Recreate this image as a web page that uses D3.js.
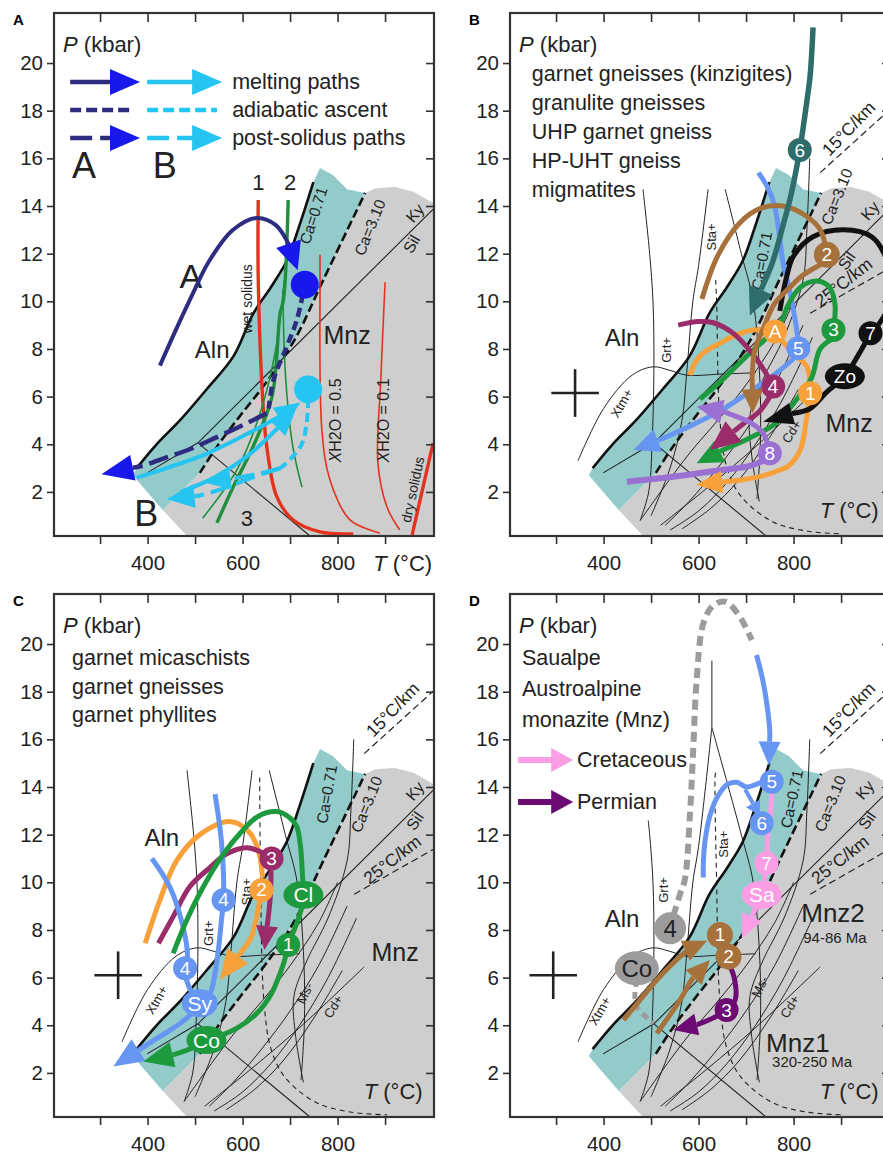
<!DOCTYPE html>
<html>
<head>
<meta charset="utf-8">
<script src="https://cdn.jsdelivr.net/npm/d3@7"></script>
<style>
body { margin: 0; background: #fff; }
svg { display: block; font-family: "Liberation Sans", Arial, sans-serif; }
</style>
</head>
<body>
<svg id="chart" width="883" height="1155"></svg>
<script>
// axes
var tDomain = [203, 1003];
var pDomain = [0.15, 22.1];
var tTicks = [300, 400, 500, 600, 700, 800, 900];
var tLabels = [400, 600, 800];
var pTicks = [2, 4, 6, 8, 10, 12, 14, 16, 18, 20];

// stability fields, T (°C), P (kbar)
var ca071 = [[377,3.0],[419,4.0],[468,5.0],[524,6.3],[581,7.7],[623,9.5],[660,10.6],[693,11.7],[720,13.2],[749,15.0]];
var ca310 = [[510,2.8],[546,3.9],[595,5.2],[650,6.6],[710,8.4],[770,10.9],[858,14.55]];
var tealTop = [[749,15.0],[763,15.6],[790,15.3],[820,14.7],[858,14.55]];
var greyTop = [[858,14.55],[880,14.75],[920,14.8],[960,14.6],[1003,14.1]];
var cutLine = [[369,2.7],[432,1.24],[483,0.15]];
var kySil = [[506,4.06],[1003,13.9]];
var kyAnd = [[399,2.8],[506,4.06]];
var andSil = [[506,4.06],[742,0.15]];
var geo15 = [[856,15.4],[1003,18.05]];
var geo25 = [[835,9.5],[1003,11.4]];

// panel A: solidi and curves
var wetSolidus = [[633,14.25],[633,10.9],[643,5.7],[651,3.9],[672,1.8],[706,0.83],[763,0.32],[833,0.24]];
var xh05 = [[763,11.95],[763,10.9],[767,4.6],[784,2.5],[826,0.83],[889,0.28]];
var xh01 = [[900,10.8],[891,6.7],[885,3.2],[904,1.37],[931,0.4]];
var drySolidus = [[1001,4.05],[957,0.2]];
var green2 = [[696,14.25],[686,10.05],[679,9.5],[662,6.0],[622,3.9],[580,2.2],[546,0.7]];
var green3a = [[688,10.9],[670,8.0],[640,5.5],[590,3.0],[516,0.9]];
var green3b = [[685,10.5],[690,7.0],[705,4.0],[725,2.2]];
var meltA = [[426,7.3],[455,8.6],[490,10.1],[530,11.7],[580,13.0],[630,13.5],[670,13.2],[697,12.4]];
var meltATip = [716, 11.3];
var dotA = [731, 10.7];
var ascentA = [[727,10.3],[714,9.2],[693,8.1],[665,6.7],[655,5.5]];
var postA = [[651,5.3],[600,4.8],[546,4.3],[490,3.8],[440,3.45],[390,3.1]];
var postATip = [303, 2.74];
var dotB = [738, 6.3];
var meltB1 = [[377,2.6],[440,3.0],[524,3.6],[616,4.5],[680,5.2]];
var meltB1Tip = [722, 5.75];
var meltB2 = [[470,2.0],[540,2.6],[610,3.5],[670,4.6]];
var meltB2Tip = [712, 5.45];
var ascentB = [[738,5.9],[735,4.9],[722,3.9],[680,3.0]];
var postB1 = [[680,3.0],[620,2.6],[560,2.15],[510,1.85]];
var postB1Tip = [440, 1.7];
var postB2 = [[680,3.0],[630,2.75],[590,2.6]];
var postB2Tip = [520, 2.4];

// petrogenetic grid of panels B-D
var gridGrt = [[483,14.7],[497,12],[504,10],[506,7.3],[502,4],[495,2],[477,0.8]];
var gridL2 = [[620,14.7],[600,11.5],[588,10],[575,7],[565,5],[540,3],[500,1]];
var gridL3 = [[656,14.7],[690,12],[715,10],[729,6.7],[730,4],[723,1.7]];
var gridMs = [[834,16],[828,13],[820,10.9],[780,8.5],[735,6.7],[708,5.2],[712,3.5],[728,1.6]];
var gridXtm = [[346,3.3],[400,5.5],[460,6.9],[504,7.25],[540,7.1],[575,6.9],[650,6.95],[720,7.0]];
var gridSta = [[635,14.5],[638,10],[645,5],[660,3],[690,1.8],[757,0.74],[830,0.35],[904,0.24]];
var gridCd = [[520,0.6],[620,2.2],[720,3.9],[856,6.45]];
var fan1 = [[477,0.8],[520,2],[580,3.6],[640,5],[700,6.5],[760,8.3],[800,10]];
var fan2 = [[530,0.6],[580,1.6],[640,3],[700,4.6],[760,6.5],[820,9]];
var fan3 = [[540,0.4],[600,1.2],[660,2.4],[720,4],[780,6],[840,8.5]];
var fan4 = [[565,0.45],[625,1.3],[685,2.5],[750,4.3],[810,6.3]];
var apexD = [[628,19.3],[628,16.5]];

// panel B paths
var b6 = [[841,21.5],[835,19.5],[828,18.4],[813,16.35],[795,14.5],[778,13.2],[755,11.6]];
var b6Tip = [708, 9.4];
var b2a = [[607,10.1],[640,11.9],[687,13.3],[730,13.9],[778,14.0],[825,13.6],[856,13.0],[870,12.0]];
var b2b = [[862,11.6],[820,11.1],[793,10.6],[760,9.9],[735,8.8],[719,8.0],[713,7.0]];
var b2bTip = [714, 5.3];
var b7loop = [[771,9.6],[785,11.0],[800,11.9],[840,12.7],[905,13.0],[965,12.7],[995,11.8],[1010,10.3],[985,9.2],[965,8.7]];
var b7zo = [[962,8.66],[935,7.7],[908,6.85],[870,6.2],[835,5.5]];
var b7Tip = [736, 4.95];
var b3loop = [[884,8.8],[887,9.9],[875,10.6],[850,10.85],[815,10.6],[790,9.9],[770,9.0],[740,8.4],[701,7.7],[650,6.7],[603,5.9]];
var b3down = [[880,8.4],[856,8.0],[838,6.8],[807,5.9],[764,4.9],[701,4.2],[650,3.75]];
var b3Tip = [596, 3.2];
var b5top = [[726,15.4],[745,14.8],[760,14.0],[770,12.8],[778,11.6],[790,10.6],[800,9.6],[808,8.6],[810,8.0]];
var b5down = [[800,7.6],[771,7.1],[715,6.3],[645,5.4],[575,4.7],[520,4.2]];
var b5Tip = [463, 3.76];
var b4 = [[557,9.0],[600,9.15],[631,9.1],[670,8.7],[701,8.1],[735,7.2],[757,6.45]];
var b4down = [[750,6.0],[729,5.4],[700,4.95]];
var b4Tip = [624, 3.76];
var bAleft = [[750,8.78],[715,8.8],[680,8.6],[645,8.24],[615,7.9],[596,7.54],[585,7.1],[582,6.9]];
var bA1 = [[770,8.5],[800,7.8],[828,7.26],[835,6.2]];
var b1down = [[833,5.8],[828,5.16],[814,3.76],[790,3.1],[771,2.92],[740,2.7],[690,2.5]];
var b1Tip = [595, 2.3];
var b8arc = [[745,4.0],[736,4.46],[710,4.9],[680,5.16],[655,5.35]];
var b8Tip = [596, 5.58];
var b8left = [[735,3.3],[701,3.06],[640,2.9],[575,2.71],[510,2.55],[449,2.43]];

// panel C paths
var cBlue1 = [[409,11.0],[447,9.8],[475,8.1],[484,6.9],[479,6.39],[482,5.9],[495,5.3],[510,4.9]];
var cBlue2 = [[542,13.7],[556,11.6],[560,9.26],[556,8.5],[546,6.7],[531,5.3],[512,4.9]];
var cSyDown = [[505,4.7],[470,4.1],[440,3.7],[400,3.2]];
var cSyTip = [328, 2.27];
var cOrange = [[395,7.44],[425,9.2],[461,10.9],[510,12.0],[574,12.55],[616,12.06],[635,11.2],[642,10.2]];
var cOrangeDown = [[636,9.2],[628,8.4],[616,7.6]];
var cOrangeTip = [552, 5.9];
var cMaroon = [[423,7.44],[455,8.6],[489,9.82],[530,10.6],[567,11.2],[610,11.45],[645,11.2]];
var cMaroonDown = [[660,10.5],[658,9.3]];
var cMaroonTip = [646, 7.16];
var cGreen = [[454,7.02],[480,8.3],[510,9.54],[550,10.9],[595,12.06],[635,12.8],[672,12.97],[700,12.7],[714,12.34],[722,11.5],[726,10.3],[728,9.47],[724,8.9],[714,8.28],[696,7.37],[688,6.7],[679,6.18],[660,5.3],[630,4.5],[590,3.9],[545,3.5],[524,3.38],[500,3.1],[460,2.8]];
var cGreenTip = [391, 2.48];

// panel D paths
var dGreyLoop = [[547,8.6],[561,9.5],[571,10.1],[582,12.9],[589,15.7],[596,18.5],[610,20.87],[630,21.6],[656,21.78],[685,21.2],[712,20.17]];
var dGreyCo = [[470,5.9],[466,5.3],[470,4.78],[505,4.08]];
var dBlueTop = [[722,19.54],[735,18.5],[745,17.3],[750,16.3]];
var dBlueTip = [748, 14.9];
var dBlueLoop = [[745,14.3],[720,14.1],[701,14.0],[680,14.2],[660,14.1],[640,13.6],[624,12.8],[614,11.8],[610,10.8],[610,10.2]];
var dBlueSmall = [[698,13.9],[712,13.4]];
var dBlueSmallTip = [729, 12.8];
var dPink = [[754,14.2],[752,13.0],[745,11.8],[743,10.8],[733,9.47],[720,8.9]];
var dPinkTip = [691, 7.65];
var dBrown1 = [[442,4.22],[470,4.9],[512,5.9],[561,6.88],[585,7.25]];
var dBrown1Tip = [618, 7.55];
var dBrown2 = [[512,3.66],[535,4.3],[561,5.06],[585,5.9]];
var dBrown2Tip = [624, 6.74];
var dPurple = [[663,6.6],[675,6.0],[677,5.06],[659,4.64],[630,4.3],[600,4.05]];
var dPurpleTip = [547, 3.8];

// text
var infoB = ["garnet gneisses (kinzigites)", "granulite gneisses", "UHP garnet gneiss", "HP-UHT gneiss", "migmatites"];
var infoC = ["garnet micaschists", "garnet gneisses", "garnet phyllites"];
var infoD = ["Saualpe", "Austroalpine", "monazite (Mnz)"];
var legendA = ["melting paths", "adiabatic ascent", "post-solidus paths"];
var legendD = ["Cretaceous", "Permian"];

var svg = d3.select("#chart");
var W = 380, H = 523;
var x = d3.scaleLinear().domain(tDomain).range([0, W]);
var y = d3.scaleLinear().domain(pDomain).range([H, 0]);
var smooth = d3.line().x(function(d) { return x(d[0]); }).y(function(d) { return y(d[1]); }).curve(d3.curveCatmullRom.alpha(0.5));
var straight = d3.line().x(function(d) { return x(d[0]); }).y(function(d) { return y(d[1]); });

var col = {
    teal: "#93cbca", grey: "#cecece", navy: "#2e2c80", blue: "#1818ec", cyan: "#25c4f1",
    red: "#e3331f", green: "#1f8f3c", orange: "#f8a03a", lblue: "#6696f2", maroon: "#9a2c6a",
    pgreen: "#1d9a3e", purple: "#9b70d3", brown: "#a6713b", dteal: "#2f6d6c", pink: "#fb9ee6",
    dpurple: "#6b0b73", gray: "#9c9c9c"
};

function panel(left, top, letter) {
    var g = svg.append("g").attr("transform", "translate(" + left + "," + top + ")");
    g.append("clipPath").attr("id", "clip" + letter).append("rect").attr("width", W).attr("height", H);
    g.append("text").attr("x", -41).attr("y", 12).attr("font-size", 15).attr("font-weight", "bold").text(letter);
    return g;
}

function curve(g, pts, color, w, dash) {
    return g.append("path").attr("d", smooth(pts)).attr("fill", "none").attr("stroke", color)
        .attr("stroke-width", w).attr("stroke-dasharray", dash || null).attr("stroke-linecap", "butt");
}

function arrow(g, pts, tip, color, w, dash, hl, hw, headColor) {
    var px = pts.map(function(d) { return [x(d[0]), y(d[1])]; });
    var t = [x(tip[0]), y(tip[1])];
    var last = px[px.length - 1];
    var dx = t[0] - last[0], dy = t[1] - last[1], len = Math.hypot(dx, dy);
    var ux = dx / len, uy = dy / len;
    var base = [t[0] - ux * hl, t[1] - uy * hl];
    if (len > hl) px.push(base);
    g.append("path").attr("d", d3.line().curve(d3.curveCatmullRom.alpha(0.5))(px))
        .attr("fill", "none").attr("stroke", color).attr("stroke-width", w)
        .attr("stroke-dasharray", dash || null);
    g.append("path")
        .attr("d", "M" + t[0] + "," + t[1] + "L" + (base[0] - uy * hw) + "," + (base[1] + ux * hw) +
            "L" + (base[0] + uy * hw) + "," + (base[1] - ux * hw) + "Z")
        .attr("fill", headColor || color);
}

function badge(g, T, P, label, fill, rx, ry, tc, fs) {
    g.append("ellipse").attr("cx", x(T)).attr("cy", y(P)).attr("rx", rx || 12).attr("ry", ry || rx || 12).attr("fill", fill);
    g.append("text").attr("x", x(T)).attr("y", y(P)).attr("text-anchor", "middle").attr("dominant-baseline", "central")
        .attr("font-size", fs || 19).attr("fill", tc || "#fff").text(label);
}

function label(g, txt, T, P, rot, size, color) {
    g.append("text").attr("transform", "translate(" + x(T) + "," + y(P) + ") rotate(" + (rot || 0) + ")")
        .attr("text-anchor", "middle").attr("dominant-baseline", "central")
        .attr("font-size", size).attr("fill", color || "#222").text(txt);
}

function axisTitles(g, insideT) {
    var p = g.append("text").attr("x", x(222)).attr("y", y(20.46)).attr("font-size", 22).attr("fill", "#222");
    p.append("tspan").attr("font-style", "italic").text("P");
    p.append("tspan").text(" (kbar)");
    var t = g.append("text").attr("x", x(insideT ? 855 : 875)).attr("y", y(insideT ? 0.9 : -1.3)).attr("font-size", 22).attr("fill", "#222");
    t.append("tspan").attr("font-style", "italic").text("T");
    t.append("tspan").text(" (°C)");
}

function axes(g) {
    var ax = g.append("g");
    ax.append("g").call(d3.axisLeft(y).tickValues(pTicks).tickSize(7).tickPadding(4));
    ax.append("g").attr("transform", "translate(0," + H + ")")
        .call(d3.axisBottom(x).tickValues(tTicks).tickSize(8).tickPadding(11)
            .tickFormat(function(d) { return tLabels.indexOf(d) >= 0 ? d : ""; }));
    ax.append("g").call(d3.axisTop(x).tickValues(tTicks).tickSize(-9).tickFormat(""));
    ax.append("g").attr("transform", "translate(" + W + ",0)")
        .call(d3.axisRight(y).tickValues(pTicks).tickSize(-8).tickFormat(""));
    ax.selectAll(".domain").remove();
    ax.selectAll("text").attr("font-size", 20.5).attr("fill", "#222").attr("font-family", "Liberation Sans, Arial, sans-serif");
    ax.selectAll("line").attr("stroke", "#333").attr("stroke-width", 1.6);
    g.append("rect").attr("width", W).attr("height", H).attr("fill", "none").attr("stroke", "#333").attr("stroke-width", 2.2);
}

function fields(g, letter) {
    var bg = g.append("g").attr("clip-path", "url(#clip" + letter + ")");
    var teal = [cutLine[0]].concat(ca071, tealTop.slice(1), ca310.slice().reverse().slice(1), [cutLine[1]]);
    var grey = greyTop.concat([[1003, 0.15], cutLine[2], cutLine[1]], ca310);
    bg.append("path").attr("d", straight(grey) + "Z").attr("fill", col.grey);
    bg.append("path").attr("d", straight(teal) + "Z").attr("fill", col.teal);
    return bg;
}

function baseLines(g) {
    curve(g, kySil, "#222", 1.1);
    curve(g, kyAnd, "#222", 1.1);
    curve(g, andSil, "#222", 1.1);
    curve(g, ca310, "#111", 2.6, "9,4");
    curve(g, ca071, "#111", 2.6);
}

function grid(g, bg, opts) {
    var grt = opts.grtTop ? gridGrt.filter(function(d) { return d[1] <= opts.grtTop; }) : gridGrt;
    if (opts.grtTop) grt = [[494, opts.grtTop]].concat(grt);
    [grt, fan1, fan2, fan3, fan4, gridCd, gridXtm, gridMs].forEach(function(l) { curve(g, l, "#222", 1); });
    curve(g, opts.apex ? apexD.slice(1).concat(gridL2.slice(1)) : gridL2, "#222", 1);
    curve(g, opts.apex ? apexD.slice(1).concat(gridL3.slice(1)) : gridL3, "#222", 1);
    if (opts.apex) curve(g, apexD, "#222", 1);
    var sta = gridSta.filter(function(d) { return d[1] <= opts.staTop; });
    curve(g, [[636, opts.staTop]].concat(sta), "#222", 1.1, "5,4");
    curve(bg, geo15, "#222", 1.2, "7,4");
    curve(bg, geo25, "#222", 1.2, "7,4");
}

function cross(g, T, P) {
    g.append("path").attr("d", straight([[T - 50, P], [T + 50, P]])).attr("stroke", "#222").attr("stroke-width", 2.6);
    g.append("path").attr("d", straight([[T, P - 1], [T, P + 1]])).attr("stroke", "#222").attr("stroke-width", 2.6);
}

function info(g, lines, T, P0, step) {
    lines.forEach(function(s, i) {
        g.append("text").attr("x", x(T)).attr("y", y(P0 - i * step)).attr("font-size", 21.5).attr("fill", "#222").text(s);
    });
}

function gridLabels(g, v) {
    label(g, "Ca=0.71", v.ca1[0], v.ca1[1], v.ca1[2], 15.5);
    label(g, "Ca=3.10", v.ca3[0], v.ca3[1], -68, 15.5);
    label(g, "Ky", v.ky[0], v.ky[1], -50, 16);
    label(g, "Sil", v.sil[0], v.sil[1], -55, 16);
    label(g, "15°C/km", v.g15[0], v.g15[1], -46, 17.5);
    label(g, "25°C/km", v.g25[0], v.g25[1], -38, 17.5);
    label(g, "Sta+", v.sta[0], v.sta[1], -90, 13);
    label(g, "Grt+", v.grt[0], v.grt[1], -90, 13);
    label(g, "Xtm+", v.xtm[0], v.xtm[1], -60, 13);
    label(g, "Cd+", v.cd[0], v.cd[1], -58, 13);
    if (v.ms) label(g, "Ms-", v.ms[0], v.ms[1], -65, 13);
}

// ---------- panel A ----------
var gA = panel(54, 13, "A");
fields(gA, "A");
baseLines(gA);
curve(gA, xh05, col.red, 1.6);
curve(gA, xh01, col.red, 1.6);
curve(gA, wetSolidus, col.red, 3.4);
curve(gA, drySolidus, col.red, 3.4);
curve(gA, green3a, col.green, 1.6);
curve(gA, green3b, col.green, 1.6);
curve(gA, green2, col.green, 3.4);
label(gA, "Ca=0.71", 749, 13.6, -72, 15.5);
label(gA, "Ca=3.10", 868, 13.1, -68, 15.5);
label(gA, "Ky", 963, 13.7, -50, 16);
label(gA, "Sil", 956, 12.4, -60, 16);
label(gA, "wet solidus", 610, 10.1, -90, 14);
label(gA, "dry solidus", 958, 2.1, -78, 14);
label(gA, "1", 633, 15.0, 0, 22);
label(gA, "2", 700, 15.0, 0, 22);
label(gA, "3", 609, 0.9, 0, 22);
label(gA, "Mnz", 820, 8.6, 0, 25);
label(gA, "Aln", 536, 7.96, 0, 24);
label(gA, "A", 491, 11.06, 0, 34);
label(gA, "B", 397, 1.1, 0, 36);
[[795, 0.5], [896, 0.1]].forEach(function(d) {
    var t = gA.append("text").attr("transform", "translate(" + x(d[0]) + "," + y(5.0) + ") rotate(-90)")
        .attr("text-anchor", "middle").attr("dominant-baseline", "central").attr("font-size", 16).attr("fill", "#222");
    t.append("tspan").attr("font-style", "italic").text("X");
    t.append("tspan").text("H2O = " + d[1]);
});
// legend A
var legP = [19.2, 18.03, 16.85];
arrow(gA, [[237, legP[0]], [330, legP[0]]], [384, legP[0]], col.navy, 4.5, null, 30, 13, col.blue);
arrow(gA, [[399, legP[0]], [500, legP[0]]], [557, legP[0]], col.cyan, 4.5, null, 30, 13);
curve(gA, [[237, legP[1]], [369, legP[1]]], col.navy, 4.5, "11,5");
curve(gA, [[399, legP[1]], [546, legP[1]]], col.cyan, 4.5, "11,5");
arrow(gA, [[237, legP[2]], [330, legP[2]]], [384, legP[2]], col.navy, 4.5, "22,8", 30, 13, col.blue);
arrow(gA, [[399, legP[2]], [500, legP[2]]], [557, legP[2]], col.cyan, 4.5, "22,8", 30, 13);
legendA.forEach(function(s, i) {
    gA.append("text").attr("x", x(578)).attr("y", y(legP[i]) + 7).attr("font-size", 21.5).attr("fill", "#222").text(s);
});
gA.append("text").attr("x", x(241)).attr("y", y(15.18)).attr("font-size", 36).attr("fill", "#222").text("A");
gA.append("text").attr("x", x(411)).attr("y", y(15.18)).attr("font-size", 36).attr("fill", "#222").text("B");
// paths A and B
arrow(gA, meltB1, meltB1Tip, col.cyan, 4, null, 26, 11);
arrow(gA, meltB2, meltB2Tip, col.cyan, 4, null, 26, 11);
curve(gA, ascentB, col.cyan, 4, "9,5");
arrow(gA, postB1, postB1Tip, col.cyan, 4, "20,7", 28, 12);
arrow(gA, postB2, postB2Tip, col.cyan, 4, "20,7", 26, 11);
badge(gA, dotB[0], dotB[1], "", col.cyan, 14);
arrow(gA, meltA, meltATip, col.navy, 4, null, 28, 13, col.blue);
curve(gA, ascentA, col.navy, 4.5, "9,5");
arrow(gA, postA, postATip, col.navy, 4.5, "20,7", 32, 13, col.blue);
badge(gA, dotA[0], dotA[1], "", col.blue, 14);
axes(gA);
axisTitles(gA, false);

// ---------- panel B ----------
var gB = panel(510, 13, "B");
var bgB = fields(gB, "B");
grid(gB, bgB, { staTop: 10.9 });
baseLines(gB);
gridLabels(gB, { ca1: [733, 11.7, -80], ca3: [891, 14.4], ky: [961, 13.8], sil: [912, 11.7], g15: [916, 17.25],
    g25: [905, 10.8], sta: [628, 12.7], grt: [533, 7.96], xtm: [438, 5.72], cd: [796, 4.53] });
info(gB, infoB, 249, 19.25, 1.22);
label(gB, "Aln", 439, 8.46, 0, 24);
label(gB, "Mnz", 917, 4.9, 0, 25);
cross(gB, 340, 6.15);
curve(gB, b8left, col.purple, 6);
arrow(gB, b1down, b1Tip, col.orange, 5, null, 26, 11);
curve(gB, bAleft, col.orange, 5);
curve(gB, bA1, col.orange, 5);
arrow(gB, b5down, b5Tip, col.lblue, 5, null, 26, 12);
curve(gB, b5top, col.lblue, 5);
curve(gB, b3loop, col.pgreen, 5);
arrow(gB, b3down, b3Tip, col.pgreen, 5, null, 26, 12);
arrow(gB, b4down, b4Tip, col.maroon, 5, null, 30, 13);
curve(gB, b4, col.maroon, 5);
arrow(gB, b8arc, b8Tip, col.purple, 5, null, 26, 12);
curve(gB, b7loop, "#111", 5);
arrow(gB, b7zo, b7Tip, "#111", 5, null, 30, 11);
curve(gB, b2a, col.brown, 5);
arrow(gB, b2b, b2bTip, col.brown, 5, null, 24, 11);
arrow(gB, b6, b6Tip, col.dteal, 5.5, null, 28, 13);
badge(gB, 813, 16.35, "6", col.dteal, 12);
badge(gB, 870, 11.95, "2", col.brown, 13);
badge(gB, 884, 8.8, "3", col.pgreen, 12);
badge(gB, 810, 8.03, "5", col.lblue, 12);
badge(gB, 761, 8.73, "A", col.orange, 12);
badge(gB, 757, 6.42, "4", col.maroon, 12);
badge(gB, 835, 6.14, "1", col.orange, 12);
badge(gB, 750, 3.62, "8", col.purple, 12);
badge(gB, 962, 8.66, "7", "#111", 12);
badge(gB, 908, 6.85, "Zo", "#111", 20, 13);
axes(gB);
axisTitles(gB, true);

// ---------- panel C ----------
var gC = panel(54, 594, "C");
var bgC = fields(gC, "C");
grid(gC, bgC, { staTop: 14.4 });
baseLines(gC);
gridLabels(gC, { ca1: [777, 13.7, -80], ca3: [861, 13.27], ky: [963, 13.83], sil: [963, 12.57], g15: [916, 17.25],
    g25: [915, 10.95], sta: [609, 9.6], grt: [528, 7.86], xtm: [419, 5.06], cd: [791, 4.78], ms: [731, 5.34] });
info(gC, infoC, 241, 19.12, 1.2);
label(gC, "Aln", 430, 11.86, 0, 24);
label(gC, "Mnz", 921, 7.08, 0, 25);
cross(gC, 338, 6.1);
curve(gC, cOrange, col.orange, 5);
curve(gC, cMaroon, col.maroon, 5);
curve(gC, cBlue1, col.lblue, 5);
curve(gC, cBlue2, col.lblue, 5);
arrow(gC, cSyDown, cSyTip, col.lblue, 5, null, 30, 13);
arrow(gC, cOrangeDown, cOrangeTip, col.orange, 5, null, 30, 13);
arrow(gC, cMaroonDown, cMaroonTip, col.maroon, 5, null, 24, 11);
arrow(gC, cGreen, cGreenTip, col.pgreen, 5, null, 30, 13);
badge(gC, 479, 6.39, "4", col.lblue, 12);
badge(gC, 560, 9.26, "4", col.lblue, 12);
badge(gC, 510, 4.92, "Sy", col.lblue, 18, 14, "#fff", 21);
badge(gC, 640, 9.68, "2", col.orange, 12);
badge(gC, 661, 11.0, "3", col.maroon, 12);
badge(gC, 728, 9.47, "Cl", col.pgreen, 20, 14, "#fff", 21);
badge(gC, 696, 7.37, "1", col.pgreen, 12);
badge(gC, 524, 3.38, "Co", col.pgreen, 20, 14, "#fff", 21);
axes(gC);
axisTitles(gC, true);

// ---------- panel D ----------
var gD = panel(510, 594, "D");
var bgD = fields(gD, "D");
grid(gD, bgD, { staTop: 14.6, grtTop: 12.6, apex: true });
baseLines(gD);
gridLabels(gD, { ca1: [796, 13.5, -78], ca3: [877, 13.3], ky: [950, 13.87], sil: [955, 12.6], g15: [916, 17.25],
    g25: [898, 10.95], sta: [652, 11.6], grt: [526, 9.68], xtm: [392, 4.6], cd: [792, 4.78], ms: [729, 5.62] });
info(gD, infoD, 228, 19.12, 1.3);
label(gD, "Aln", 439, 8.5, 0, 24);
label(gD, "Mnz2", 883, 8.71, 0, 26);
label(gD, "94-86 Ma", 887, 7.7, 0, 15);
label(gD, "Mnz1", 809, 3.26, 0, 26);
label(gD, "320-250 Ma", 839, 2.46, 0, 15);
cross(gD, 294, 6.1);
var legDP = [15.13, 13.37];
arrow(gD, [[220, legDP[0]], [300, legDP[0]]], [336, legDP[0]], col.pink, 6, null, 22, 12);
arrow(gD, [[220, legDP[1]], [300, legDP[1]]], [336, legDP[1]], col.dpurple, 6, null, 22, 12);
legendD.forEach(function(s, i) {
    gD.append("text").attr("x", x(344)).attr("y", y(legDP[i]) + 7).attr("font-size", 21.5).attr("fill", "#222").text(s);
});
curve(gD, dGreyLoop, col.gray, 6, "10,6");
curve(gD, dGreyCo, col.gray, 5, "7,5");
curve(gD, dBlueLoop, col.lblue, 5);
arrow(gD, dBlueTop, dBlueTip, col.lblue, 5, null, 24, 11);
arrow(gD, dBlueSmall, dBlueSmallTip, col.lblue, 4, null, 14, 8);
arrow(gD, dPink, dPinkTip, col.pink, 5, null, 24, 11);
arrow(gD, dBrown1, dBrown1Tip, col.brown, 5, null, 24, 11);
arrow(gD, dBrown2, dBrown2Tip, col.brown, 5, null, 24, 11);
arrow(gD, dPurple, dPurpleTip, col.dpurple, 5, null, 24, 11);
badge(gD, 540, 8.07, "4", col.gray, 16, 16, "#222", 24);
badge(gD, 470, 6.39, "Co", col.gray, 22, 17, "#222", 24);
badge(gD, 754, 14.22, "5", col.lblue, 12);
badge(gD, 733, 12.48, "6", col.lblue, 12);
badge(gD, 743, 10.8, "7", col.pink, 12);
badge(gD, 733, 9.47, "Sa", col.pink, 20, 14, "#fff", 21);
badge(gD, 645, 7.79, "1", col.brown, 13);
badge(gD, 663, 6.88, "2", col.brown, 13);
badge(gD, 659, 4.64, "3", col.dpurple, 12);
axes(gD);
axisTitles(gD, true);
</script>
</body>
</html>
